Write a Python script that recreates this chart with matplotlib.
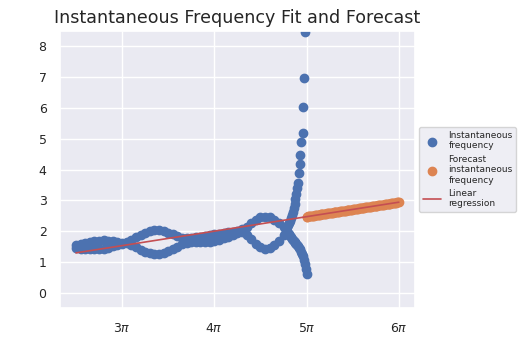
import numpy as np
import seaborn as sns
from matplotlib import pyplot as plt

sns.set_theme(style='darkgrid')

# sample times (in units of pi) for the two branches of the instantaneous frequency
t_main = [2.50, 2.55, 2.60, 2.65, 2.70, 2.75, 2.80, 2.85, 2.90, 2.95,
          3.00, 3.05, 3.10, 3.15, 3.20, 3.25, 3.30, 3.35, 3.40, 3.45,
          3.50, 3.55, 3.60, 3.65, 3.70, 3.75, 3.80, 3.85, 3.90, 3.95,
          4.00, 4.05, 4.10, 4.15, 4.20, 4.25, 4.30, 4.35, 4.40, 4.45,
          4.50, 4.55, 4.60, 4.65, 4.70, 4.75]
freq_upper = [1.56, 1.59, 1.62, 1.65, 1.68, 1.70, 1.71, 1.70, 1.68, 1.65,
              1.63, 1.64, 1.71, 1.80, 1.89, 1.96, 2.01, 2.03, 2.03, 2.01,
              1.96, 1.90, 1.84, 1.79, 1.77, 1.77, 1.80, 1.83, 1.86, 1.88,
              1.90, 1.92, 1.95, 1.97, 1.99, 2.02, 2.06, 2.15, 2.27, 2.38,
              2.45, 2.47, 2.45, 2.38, 2.28, 2.15]
freq_lower = [1.47, 1.44, 1.43, 1.42, 1.42, 1.43, 1.44, 1.47, 1.51, 1.55,
              1.59, 1.61, 1.56, 1.48, 1.40, 1.34, 1.30, 1.28, 1.28, 1.30,
              1.35, 1.42, 1.50, 1.58, 1.63, 1.65, 1.64, 1.64, 1.65, 1.66,
              1.69, 1.73, 1.78, 1.83, 1.89, 1.95, 1.98, 1.88, 1.74, 1.60,
              1.49, 1.44, 1.45, 1.54, 1.68, 1.88]

# end of the record: one branch blows up, the other collapses
t_rise = [4.78, 4.79, 4.80, 4.81, 4.82, 4.83, 4.84, 4.85, 4.86, 4.87, 4.88,
          4.89, 4.90, 4.907, 4.918, 4.925, 4.932, 4.943, 4.958, 4.964, 4.975, 4.983]
freq_rise = [2.08, 2.14, 2.20, 2.26, 2.33, 2.42, 2.52, 2.63, 2.75, 2.88, 3.04,
             3.22, 3.40, 3.56, 3.90, 4.18, 4.49, 4.89, 5.18, 6.05, 6.97, 8.46]
t_fall = [4.78, 4.79, 4.80, 4.81, 4.82, 4.83, 4.84, 4.85, 4.86, 4.87, 4.88, 4.89,
          4.90, 4.91, 4.92, 4.93, 4.94, 4.95, 4.96, 4.97, 4.98, 4.99, 5.00]
freq_fall = [2.05, 1.99, 1.95, 1.90, 1.85, 1.80, 1.76, 1.72, 1.68, 1.64, 1.61, 1.58,
             1.55, 1.51, 1.47, 1.41, 1.34, 1.27, 1.19, 1.07, 0.93, 0.78, 0.63]

# linear fit (value at t = 2.5 pi, slope per pi) and its range
fit_intercept = 1.30
fit_slope = 0.47
fit_start, fit_end = 2.5, 6.0
forecast_start, forecast_end = 5.0, 6.0

t_obs = np.concatenate([t_main, t_main, t_rise, t_fall]) * np.pi
f_obs = np.concatenate([freq_upper, freq_lower, freq_rise, freq_fall])

t_fit = np.linspace(fit_start, fit_end, 200)
f_fit = fit_intercept + fit_slope * (t_fit - fit_start)
t_fc = np.linspace(forecast_start, forecast_end, 100)
f_fc = fit_intercept + fit_slope * (t_fc - fit_start)

fig = plt.figure(figsize=(5.2, 3.37), dpi=100)
ax = fig.add_subplot(111)
fig.subplots_adjust(left=0.115, right=0.798, bottom=0.085, top=0.908)

ax.scatter(t_obs, f_obs, color='#4C72B0', s=36, label='Instantaneous\nfrequency')
ax.scatter(t_fc * np.pi, f_fc, color='#DD8452', s=36, label='Forecast\ninstantaneous\nfrequency')
ax.plot(t_fit * np.pi, f_fit, color='#C44E52', lw=1.2, label='Linear\nregression')

ax.set_ylim(-0.5, 8.5)
ax.set_yticks(range(0, 9))
ax.set_xticks(np.pi * np.array([3, 4, 5, 6]))
ax.set_xticklabels([r'$3\pi$', r'$4\pi$', r'$5\pi$', r'$6\pi$'])
ax.tick_params(labelsize=9)
ax.set_title('Instantaneous Frequency Fit and Forecast', fontsize=12.6)
ax.legend(loc='center left', bbox_to_anchor=(1.0, 0.5), fontsize=6.5)

plt.savefig('out.png')
